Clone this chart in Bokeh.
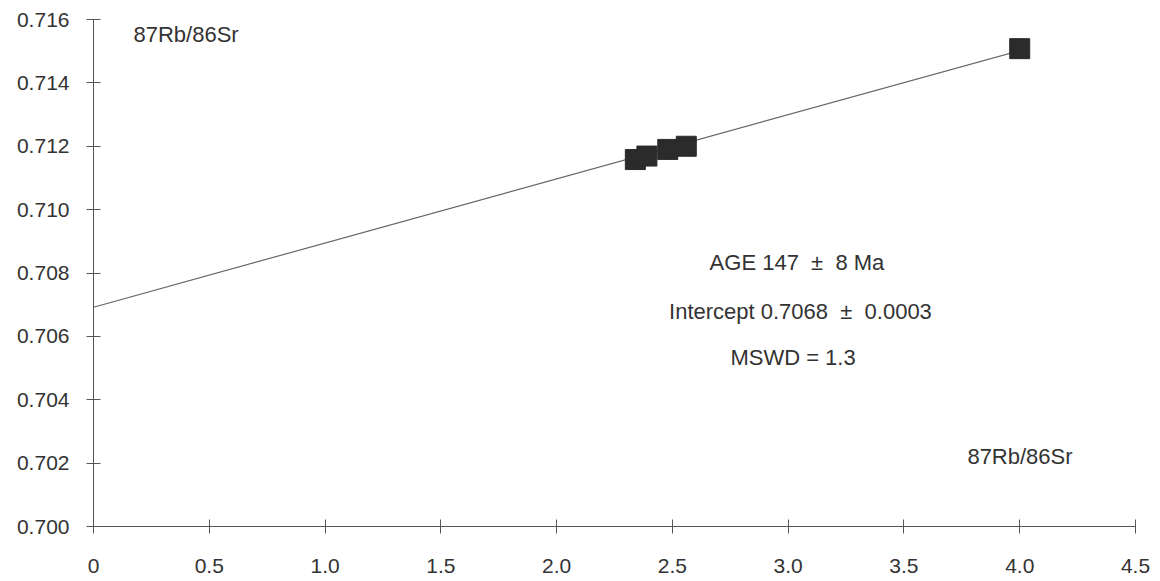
from bokeh.plotting import figure
from bokeh.models import FixedTicker, PrintfTickFormatter, CustomJSTickFormatter, Label, Range1d
from bokeh.embed import file_html
from bokeh.resources import INLINE

# data
rbsr = [2.34, 2.39, 2.48, 2.56, 4.0]
srsr = [0.71158, 0.71169, 0.7119, 0.7120, 0.71508]
fit_x = [0.0, 4.0]
fit_y = [0.70692, 0.71502]
x_ticks = [0, 0.5, 1.0, 1.5, 2.0, 2.5, 3.0, 3.5, 4.0, 4.5]
y_ticks = [0.700, 0.702, 0.704, 0.706, 0.708, 0.710, 0.712, 0.714, 0.716]
axis_note = "87Rb/86Sr"
NB = "\u00a0"
age_text = "AGE 147" + NB * 2 + "\u00b1" + NB * 2 + "8 Ma"
intercept_text = "Intercept 0.7068" + NB * 2 + "\u00b1" + NB * 2 + "0.0003"
mswd_text = "MSWD = 1.3"

FONT = "Liberation Sans"
TXT = "#333333"

p = figure(frame_width=1042, frame_height=507,
           min_border_left=93, min_border_right=17, min_border_top=19, min_border_bottom=52,
           x_range=Range1d(0, 4.5), y_range=Range1d(0.700, 0.716),
           output_backend="svg", toolbar_location=None)
p.outline_line_color = None
p.xgrid.grid_line_color = None
p.ygrid.grid_line_color = None
p.background_fill_color = "white"
p.border_fill_color = "white"

for ax in (p.xaxis[0], p.yaxis[0]):
    ax.axis_line_color = "#555555"
    ax.major_tick_line_color = "#555555"
    ax.major_tick_in = 7
    ax.major_tick_out = 7
    ax.minor_tick_line_color = None
    ax.major_label_text_font = FONT
    ax.major_label_text_font_size = "21px"
    ax.major_label_text_color = TXT

p.xaxis.ticker = FixedTicker(ticks=x_ticks)
p.xaxis.formatter = CustomJSTickFormatter(code="return tick == 0 ? '0' : tick.toFixed(1);")
p.xaxis.major_label_standoff = 25
p.yaxis.ticker = FixedTicker(ticks=y_ticks)
p.yaxis.formatter = PrintfTickFormatter(format="%.3f")
p.yaxis.major_label_standoff = 17

p.line(fit_x, fit_y, line_color="#666666", line_width=1.2)
p.scatter(rbsr, srsr, marker="square", size=20, fill_color="#2b2b2b", line_color="#2b2b2b")

def lab(x, y, t, align="left"):
    p.add_layout(Label(x=x, y=y, text=t, text_font=FONT, text_font_size="22px",
                       text_color=TXT, text_align=align, text_baseline="middle"))

lab(0.1727, 0.71553, axis_note)
lab(3.774, 0.70221, axis_note)
lab(3.038, 0.70832, age_text, "center")
lab(3.053, 0.70679, intercept_text, "center")
lab(3.021, 0.70532, mswd_text, "center")

open("out.html", "w").write(file_html(p, INLINE))
